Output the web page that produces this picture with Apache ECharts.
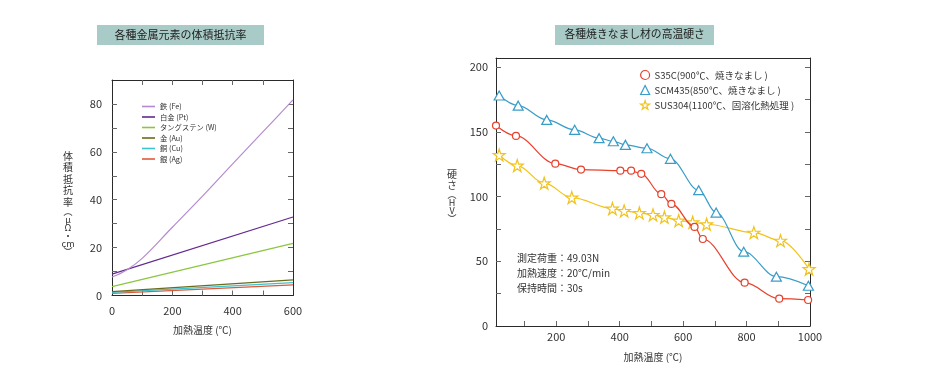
<!DOCTYPE html>
<html><head><meta charset="utf-8">
<script src="https://cdn.jsdelivr.net/npm/echarts@6/dist/echarts.min.js"></script>
<style>html,body{margin:0;padding:0;background:#fff}#c{width:934px;height:367px}</style>
</head><body><div id="c"></div>
<script>
// ---------- Left chart data ----------
const leftTitle = '各種金属元素の体積抵抗率';
const metalNames = ['鉄 (Fe)', '白金 (Pt)', 'タングステン (W)', '金 (Au)', '銅 (Cu)', '銀 (Ag)'];
const feTemps = [0, 50, 100, 200, 300, 400, 500, 600];
const feValues = [7.7, 10.8, 15.5, 28.5, 41.5, 55.0, 68.3, 81.7];
const lineTemps = [0, 600];
const ptValues = [8.9, 32.8];
const wValues = [3.7, 21.8];
const auValues = [1.6, 6.5];
const cuValues = [1.3, 5.4];
const agValues = [0.9, 4.4];
const leftXLabels = [0, 200, 400, 600];
const leftYLabels = [0, 20, 40, 60, 80];

// ---------- Right chart data ----------
const rightTitle = '各種焼きなまし材の高温硬さ';
const steelNames = ['S35C(900℃、焼きなまし )', 'SCM435(850℃、焼きなまし )', 'SUS304(1100℃、固溶化熱処理 )'];
const s35cTemps = [10, 73, 197, 278, 402, 436, 468, 531, 563, 636, 662, 794, 903, 994];
const s35cHardness = [154.8, 146.8, 125.4, 120.8, 120.0, 120.0, 117.5, 101.8, 94.3, 76.5, 67.2, 33.5, 21.1, 20.1];
const scm435Temps = [20, 80, 170, 258, 335, 380, 418, 486, 560, 649, 704, 791, 894, 995];
const scm435Hardness = [178.0, 170.2, 159.2, 151.5, 145.1, 142.7, 139.9, 137.3, 129.1, 104.9, 87.6, 57.4, 38.1, 31.1];
const sus304Temps = [20, 77, 162, 249, 377, 414, 462, 505, 541, 586, 630, 674, 823, 907, 997];
const sus304Hardness = [132.1, 123.9, 110.3, 99.2, 90.7, 88.9, 87.3, 85.8, 84.0, 81.4, 80.1, 78.6, 72.1, 65.9, 44.0];
const rightXLabels = [200, 400, 600, 800, 1000];
const rightYLabels = [0, 50, 100, 150, 200];
const annotationLines = ['測定荷重：49.03N', '加熱速度：20℃/min', '保持時間：30s'];

// ---------- Rendering ----------
const FONT = "'Noto Sans CJK JP', 'Noto Sans', sans-serif";
const TXT = '#333';
const AX = '#2a2a2a';
const TICK = '#666';
const leftColors = ['#b48bd0', '#63298f', '#8cc63f', '#6b6b1c', '#3cc3d0', '#df5a3c'];
const rightColors = ['#e8412c', '#3a9dc8', '#f2c31a'];
const starPath = 'path://M50,2 L61.8,37.6 L99,37.6 L68.9,59.6 L80.4,95.2 L50,73.2 L19.6,95.2 L31.1,59.6 L1,37.6 L38.2,37.6 Z';

function pairs(xs, ys) { return xs.map((x, i) => [x, ys[i]]); }
function range(a, b, step) { const r = []; for (let v = a; v <= b + 1e-9; v += step) r.push(v); return r; }
function vertical(parts) { return parts.map(p => '{' + p[0] + '|' + p[1] + '}').join('\n'); }

const chart = echarts.init(document.getElementById('c'), null, { renderer: 'canvas' });

const lineAxisBase = {
  type: 'value',
  splitLine: { show: false },
  axisLine: { show: true, onZero: false, lineStyle: { color: AX, width: 1 } },
};

const leftSeriesData = [
  pairs(feTemps, feValues),
  pairs(lineTemps, ptValues),
  pairs(lineTemps, wValues),
  pairs(lineTemps, auValues),
  pairs(lineTemps, cuValues),
  pairs(lineTemps, agValues),
];

const leftSeries = leftSeriesData.map((d, i) => ({
  name: metalNames[i], type: 'line', xAxisIndex: 0, yAxisIndex: 0,
  data: d, showSymbol: false, symbol: 'none', smooth: i === 0 ? 0.4 : false,
  lineStyle: { color: leftColors[i], width: 1.2 }, itemStyle: { color: leftColors[i] },
  silent: true, animation: false, z: 10 - i,
}));

const rightSymbols = ['circle', 'triangle', starPath];
const rightSizes = [7, [10, 9], 12];
const rightSeriesData = [
  pairs(s35cTemps, s35cHardness),
  pairs(scm435Temps, scm435Hardness),
  pairs(sus304Temps, sus304Hardness),
];
const rightSeries = rightSeriesData.map((d, i) => ({
  name: steelNames[i], type: 'line', xAxisIndex: 2, yAxisIndex: 2,
  data: d, symbol: rightSymbols[i], symbolSize: rightSizes[i], showSymbol: true,
  smooth: 0.35, smoothMonotone: 'x',
  lineStyle: { color: rightColors[i], width: 1.2 },
  itemStyle: { color: '#fff', borderColor: rightColors[i], borderWidth: 1.2 },
  silent: true, animation: false, z: 10 - i,
}));

const leftYName = vertical([['c', '体'], ['c', '積'], ['c', '抵'], ['c', '抗'], ['c', '率'], ['s', '︵'], ['s', 'μ'], ['s', 'Ω'], ['s', '・'], ['s', 'cm'], ['s', '︶']]);
const rightYName = vertical([['c', '硬'], ['c', 'さ'], ['s', '︵'], ['s', 'H'], ['s', 'V'], ['s', '︶']]);

const option = {
  animation: false,
  backgroundColor: '#fff',
  textStyle: { fontFamily: FONT },
  grid: [
    { left: 112, top: 80, width: 181, height: 215.5 },
    { left: 496, top: 58, width: 314, height: 268 },
  ],
  xAxis: [
    Object.assign({}, lineAxisBase, {
      gridIndex: 0, min: 0, max: 600, position: 'bottom',
      axisTick: { show: true, inside: true, length: 5, customValues: range(100, 500, 100), lineStyle: { color: TICK } },
      axisLabel: { customValues: leftXLabels, color: TXT, fontSize: 11, margin: 10, fontFamily: FONT, formatter: v => String(v) },
      name: '加熱温度 (℃)', nameLocation: 'middle', nameGap: 30,
      nameTextStyle: { color: TXT, fontSize: 10, fontFamily: FONT },
    }),
    Object.assign({}, lineAxisBase, {
      gridIndex: 0, min: 0, max: 600, position: 'top',
      axisTick: { show: true, inside: true, length: 5, customValues: range(100, 500, 100), lineStyle: { color: TICK } },
      axisLabel: { show: false },
    }),
    Object.assign({}, lineAxisBase, {
      gridIndex: 1, min: 10, max: 1000, position: 'bottom',
      axisTick: { show: true, inside: true, length: 5, customValues: range(100, 900, 100), lineStyle: { color: TICK } },
      axisLabel: { customValues: rightXLabels, color: TXT, fontSize: 11, margin: 5, fontFamily: FONT, formatter: v => String(v) },
      name: '加熱温度 (℃)', nameLocation: 'middle', nameGap: 26,
      nameTextStyle: { color: TXT, fontSize: 10, fontFamily: FONT },
    }),
    Object.assign({}, lineAxisBase, {
      gridIndex: 1, min: 10, max: 1000, position: 'top',
      axisTick: { show: false }, axisLabel: { show: false },
    }),
  ],
  yAxis: [
    Object.assign({}, lineAxisBase, {
      gridIndex: 0, min: 0, max: 90, position: 'left',
      axisTick: { show: true, inside: true, length: 5, customValues: range(10, 80, 10), lineStyle: { color: TICK } },
      axisLabel: { customValues: leftYLabels, color: TXT, fontSize: 11, margin: 10, fontFamily: FONT, formatter: v => String(v) },
      name: leftYName, nameLocation: 'middle', nameGap: 44, nameRotate: 0,
      nameTextStyle: {
        color: TXT, align: 'center', verticalAlign: 'middle', padding: [30, 0, 0, 0], fontFamily: FONT,
        rich: {
          c: { fontSize: 10, lineHeight: 11.5, color: TXT, fontFamily: FONT, align: 'center' },
          s: { fontSize: 9, lineHeight: 8, color: TXT, fontFamily: FONT, align: 'center' },
        },
      },
    }),
    Object.assign({}, lineAxisBase, {
      gridIndex: 0, min: 0, max: 90, position: 'right',
      axisTick: { show: true, inside: true, length: 5, customValues: range(10, 80, 10), lineStyle: { color: TICK } },
      axisLabel: { show: false },
    }),
    Object.assign({}, lineAxisBase, {
      gridIndex: 1, min: 0, max: 207, position: 'left',
      axisTick: { show: true, inside: true, length: 5, customValues: range(25, 200, 25), lineStyle: { color: TICK } },
      axisLabel: { customValues: rightYLabels, color: TXT, fontSize: 11, margin: 8, fontFamily: FONT, formatter: v => String(v) },
      name: rightYName, nameLocation: 'middle', nameGap: 44, nameRotate: 0,
      nameTextStyle: {
        color: TXT, align: 'center', verticalAlign: 'middle', padding: [8, 0, 0, 0], fontFamily: FONT,
        rich: {
          c: { fontSize: 10, lineHeight: 11, color: TXT, fontFamily: FONT, align: 'center' },
          s: { fontSize: 9, lineHeight: 8, color: TXT, fontFamily: FONT, align: 'center' },
        },
      },
    }),
    Object.assign({}, lineAxisBase, {
      gridIndex: 1, min: 0, max: 207, position: 'right',
      axisTick: { show: true, inside: true, length: 5, customValues: range(25, 200, 25), lineStyle: { color: TICK } },
      axisLabel: { show: false },
    }),
  ],
  legend: [
    {
      orient: 'vertical', left: 137, top: 96.5, itemWidth: 13, itemHeight: 1.6, itemGap: 0.5,
      icon: 'rect', data: metalNames, selectedMode: false,
      textStyle: { color: TXT, fontSize: 7.3, lineHeight: 10, fontFamily: FONT },
    },
    {
      orient: 'vertical', left: 635, top: 64, itemWidth: 9, itemHeight: 9, itemGap: 3, selectedMode: false,
      data: steelNames.map((n, i) => ({
        name: n, icon: rightSymbols[i],
        itemStyle: { color: '#fff', borderColor: rightColors[i], borderWidth: 1.2 },
      })),
      textStyle: { color: TXT, fontSize: 9.5, lineHeight: 12, fontFamily: FONT },
    },
  ],
  graphic: [
    { type: 'rect', left: 97, top: 25, shape: { width: 167, height: 20 }, style: { fill: '#a9cbc7' }, silent: true },
    { type: 'text', left: 180.5 - 66, top: 29, style: { text: leftTitle, fill: '#222', font: "11px " + FONT }, silent: true },
    { type: 'rect', left: 555, top: 25, shape: { width: 159, height: 20 }, style: { fill: '#a9cbc7' }, silent: true },
    { type: 'text', left: 634.5 - 70, top: 29, style: { text: rightTitle, fill: '#222', font: "10.8px " + FONT }, silent: true },
  ].concat(annotationLines.map((t, i) => ({
    type: 'text', left: 517, top: 253 + i * 15, silent: true,
    style: { text: t, fill: TXT, font: "10px " + FONT },
  }))),
  series: leftSeries.concat(rightSeries),
};

chart.setOption(option);
</script>
</body></html>
